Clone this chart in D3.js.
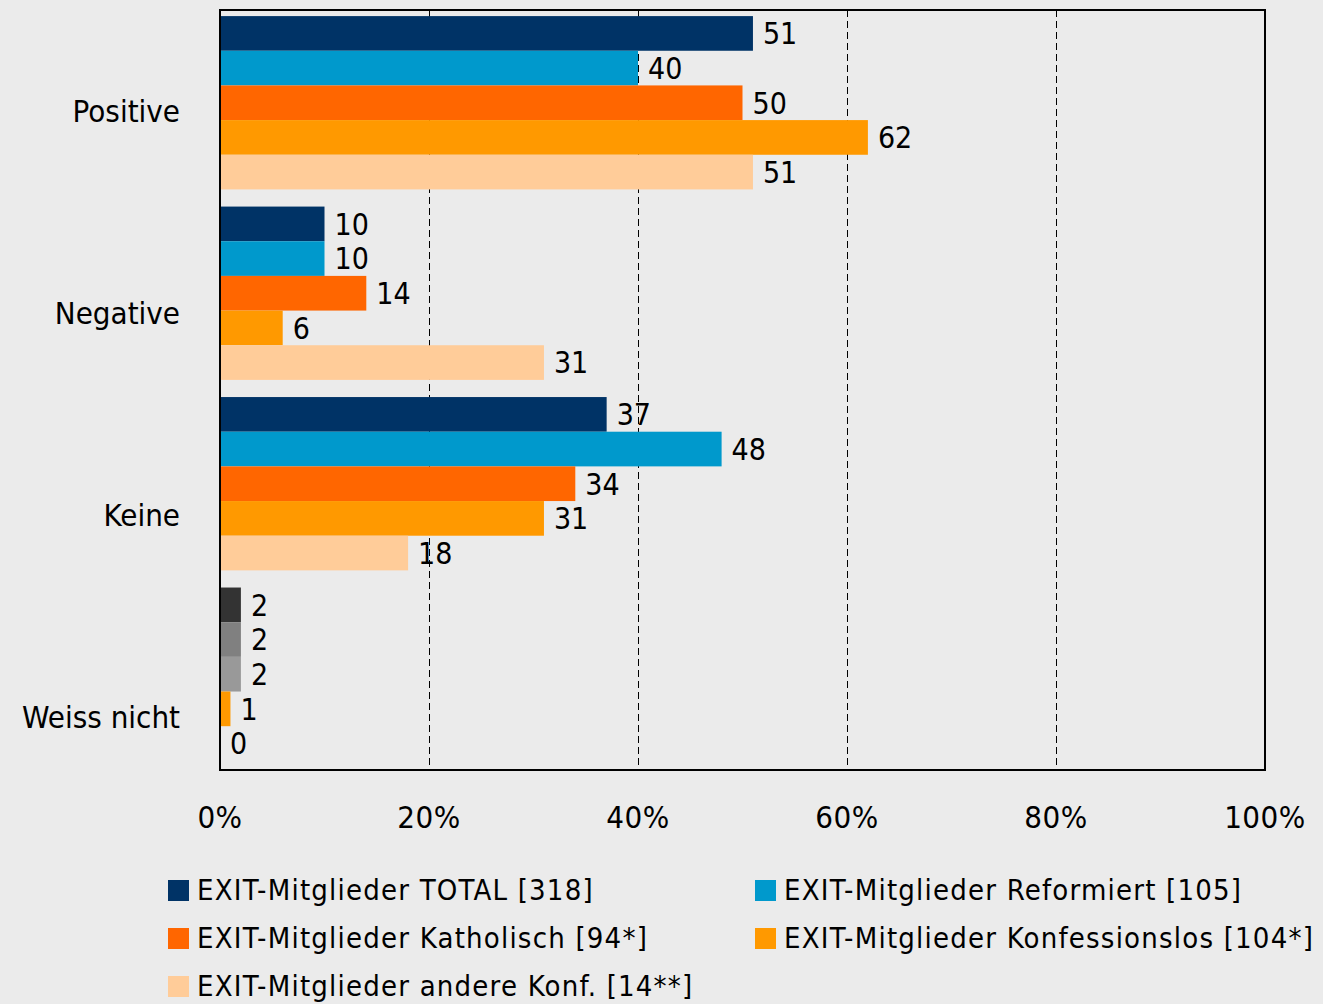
<!DOCTYPE html>
<html>
<head>
<meta charset="utf-8">
<script src="https://cdn.jsdelivr.net/npm/d3@7"></script>
<style>
  body { margin: 0; background: #ebebeb; }
  svg { display: block; font-family: "DejaVu Sans Condensed", "Liberation Sans", sans-serif; }
</style>
</head>
<body>
<svg id="chart" width="1323" height="1004"></svg>
<script>
const width = 1323, height = 1004;

// Data
const categories = ["Positive", "Negative", "Keine", "Weiss nicht"];
const seriesNames = [
  "EXIT-Mitglieder TOTAL [318]",
  "EXIT-Mitglieder Reformiert [105]",
  "EXIT-Mitglieder Katholisch [94*]",
  "EXIT-Mitglieder Konfessionslos [104*]",
  "EXIT-Mitglieder andere Konf. [14**]"
];
const total = [51, 10, 37, 2];
const reformiert = [40, 10, 48, 2];
const katholisch = [50, 14, 34, 2];
const konfessionslos = [62, 6, 31, 1];
const andere = [51, 31, 18, 0];
const seriesValues = [total, reformiert, katholisch, konfessionslos, andere];
const seriesColors = ["#003366", "#0099cc", "#ff6600", "#ff9900", "#ffcc99"];
// "Weiss nicht" group is drawn in greys for the first three series
const weissColors = ["#333333", "#808080", "#999999", "#ff9900", "#ffcc99"];
const xTicks = [0, 20, 40, 60, 80, 100];

const svg = d3.select("#chart");
const plot = { left: 220, right: 1265, top: 10, bottom: 770 };

const x = d3.scaleLinear().domain([0, 100]).range([plot.left, plot.right]);
const y = d3.scaleBand().domain(categories).range([plot.top, plot.bottom])
  .paddingInner(0.09).paddingOuter(0.04).align(0.4);
const ySub = d3.scaleBand().domain(d3.range(seriesNames.length)).range([0, y.bandwidth()]);
// category labels sit on their own slightly wider grid
const yLabel = d3.scalePoint().domain(categories).range([111, 717]);

// dashed grid lines
svg.append("g")
  .selectAll("line")
  .data(xTicks.slice(1, -1))
  .join("line")
  .attr("x1", d => Math.round(x(d)) + 0.5).attr("x2", d => Math.round(x(d)) + 0.5)
  .attr("y1", plot.top).attr("y2", plot.bottom)
  .attr("stroke", "#000")
  .attr("stroke-width", 1)
  .attr("stroke-dasharray", "7,4");

// bars
const rows = [];
categories.forEach((c, ci) => {
  seriesValues.forEach((vals, si) => {
    rows.push({
      cat: c, si, value: vals[ci],
      color: c === "Weiss nicht" ? weissColors[si] : seriesColors[si]
    });
  });
});

svg.append("g")
  .selectAll("rect")
  .data(rows)
  .join("rect")
  .attr("x", x(0))
  .attr("y", d => y(d.cat) + ySub(d.si))
  .attr("width", d => x(d.value) - x(0))
  .attr("height", ySub.bandwidth())
  .attr("fill", d => d.color);

// value labels
svg.append("g")
  .selectAll("text")
  .data(rows)
  .join("text")
  .attr("x", d => x(d.value) + 10)
  .attr("y", d => y(d.cat) + ySub(d.si) + ySub.bandwidth() / 2)
  .attr("dy", "0.36em")
  .attr("font-size", 30)
  .attr("fill", "#000")
  .text(d => d.value);

// frame
svg.append("rect")
  .attr("x", plot.left).attr("y", plot.top)
  .attr("width", plot.right - plot.left).attr("height", plot.bottom - plot.top)
  .attr("fill", "none").attr("stroke", "#000").attr("stroke-width", 2);

// category labels
svg.append("g")
  .selectAll("text")
  .data(categories)
  .join("text")
  .attr("x", 180)
  .attr("y", d => yLabel(d))
  .attr("dy", "0.36em")
  .attr("text-anchor", "end")
  .attr("font-size", 31)
  .text(d => d);

// x tick labels
svg.append("g")
  .selectAll("text")
  .data(xTicks)
  .join("text")
  .attr("x", d => x(d))
  .attr("y", 817)
  .attr("dy", "0.36em")
  .attr("text-anchor", "middle")
  .attr("font-size", 31)
  .attr("letter-spacing", 0.5)
  .text(d => d + "%");

// legend
const legendPos = [[168, 890], [755, 890], [168, 938], [755, 938], [168, 986]];
const legend = svg.append("g")
  .selectAll("g")
  .data(seriesNames)
  .join("g")
  .attr("transform", (d, i) => `translate(${legendPos[i][0]},${legendPos[i][1]})`);

legend.append("rect")
  .attr("x", 0).attr("y", -10)
  .attr("width", 21).attr("height", 21)
  .attr("fill", (d, i) => seriesColors[i]);

legend.append("text")
  .attr("x", 29)
  .attr("y", 0)
  .attr("dy", "0.36em")
  .attr("font-size", 29)
  .attr("letter-spacing", 1.2)
  .text(d => d);
</script>
</body>
</html>
